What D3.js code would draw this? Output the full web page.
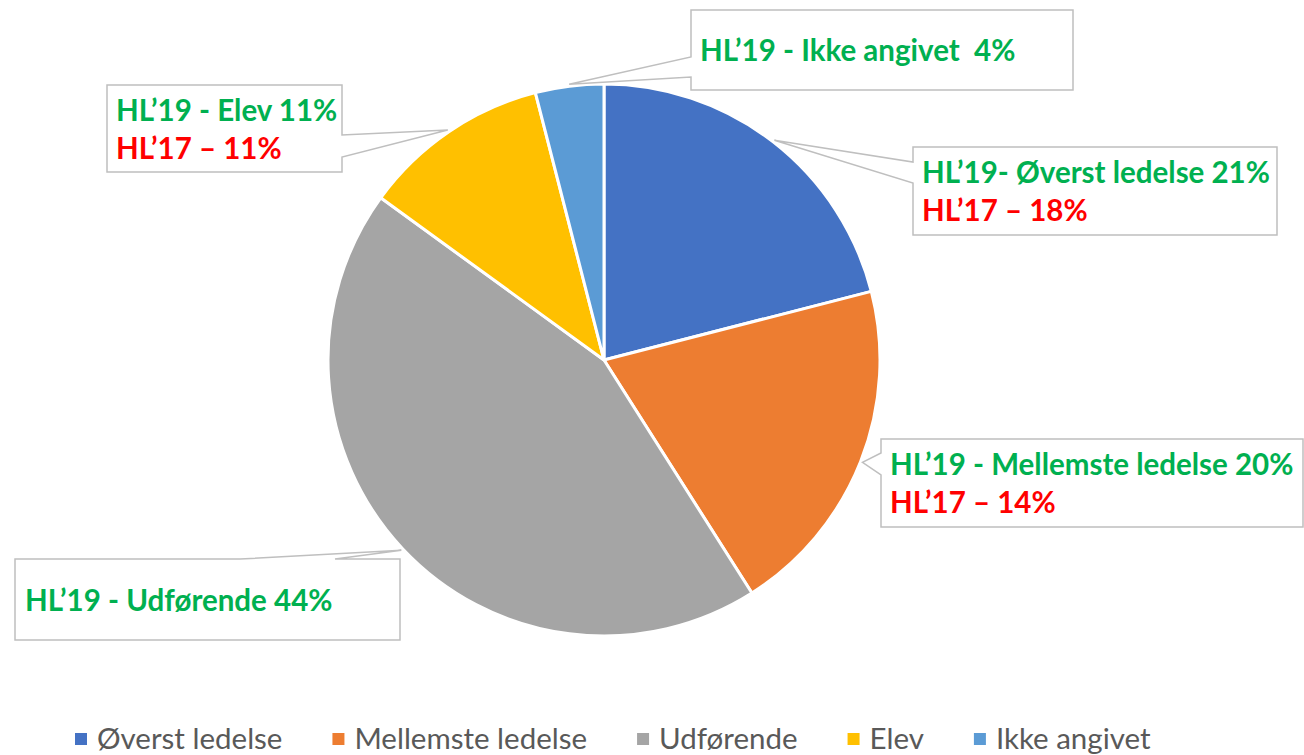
<!DOCTYPE html>
<html>
<head>
<meta charset="utf-8">
<script src="https://cdn.jsdelivr.net/npm/d3@7"></script>
<style>
  html, body { margin: 0; padding: 0; background: #fff; }
  svg { display: block; }
  text { white-space: pre; }
</style>
</head>
<body>
<svg id="chart" width="1304" height="755"></svg>
<script>
// ---- data ----
const categories = ["Øverst ledelse", "Mellemste ledelse", "Udførende", "Elev", "Ikke angivet"];
const values2019 = [21, 20, 44, 11, 4];
const values2017 = [18, 14, null, 11, null];
const labels2019 = ["HL’19- Øverst ledelse 21%", "HL’19 - Mellemste ledelse 20%", "HL’19 - Udførende 44%", "HL’19 - Elev 11%", "HL’19 - Ikke angivet  4%"];
const labels2017 = ["HL’17 – 18%", "HL’17 – 14%", null, "HL’17 – 11%", null];
const colors = ["#4472C4", "#ED7D31", "#A5A5A5", "#FFC000", "#5B9BD5"];

// ---- layout ----
const W = 1304, H = 755;
const cx = 604, cy = 360, R = 276;
const svg = d3.select("#chart");
const FONT = "Lato, 'Open Sans', sans-serif";

const pie = d3.pie().sort(null).value(d => d)(values2019);
const arc = d3.arc().innerRadius(0).outerRadius(R);

const g = svg.append("g").attr("transform", `translate(${cx},${cy})`);
g.selectAll("path").data(pie).join("path")
  .attr("d", arc)
  .attr("fill", (d, i) => colors[i])
  .attr("stroke", "#fff")
  .attr("stroke-width", 3)
  .attr("stroke-linejoin", "round");

// callout boxes (layout): x, y, w, h, side of pointer base, base start/end (offsets along side)
const boxes = [
  { x: 913, y: 147, w: 364, h: 88, side: "left", b0: 15, b1: 36 },
  { x: 881, y: 439, w: 422, h: 88, side: "left", b0: 14, b1: 36 },
  { x: 15, y: 559, w: 385, h: 81, side: "top", b0: 225, b1: 320 },
  { x: 107, y: 85, w: 235, h: 87, side: "right", b0: 50, b1: 72 },
  { x: 691, y: 10, w: 382, h: 80, side: "left", b0: 47, b1: 67 }
];

const cg = svg.append("g");
pie.forEach((d, i) => {
  const b = boxes[i];
  const mid = (d.startAngle + d.endAngle) / 2;
  const tip = d3.pointRadial(mid, R + 2);
  const tx = cx + tip[0], ty = cy + tip[1];
  const x0 = b.x, y0 = b.y, x1 = b.x + b.w, y1 = b.y + b.h;
  let pts;
  if (b.side === "left") {
    pts = [[x0, y0], [x1, y0], [x1, y1], [x0, y1], [x0, y0 + b.b1], [tx, ty], [x0, y0 + b.b0]];
  } else if (b.side === "right") {
    pts = [[x0, y0], [x1, y0], [x1, y0 + b.b0], [tx, ty], [x1, y0 + b.b1], [x1, y1], [x0, y1]];
  } else {
    pts = [[x0, y0], [x0 + b.b0, y0], [tx, ty], [x0 + b.b1, y0], [x1, y0], [x1, y1], [x0, y1]];
  }
  cg.append("path")
    .attr("d", d3.line()(pts) + "Z")
    .attr("fill", "#fff")
    .attr("stroke", "#BFBFBF")
    .attr("stroke-width", 1.5)
    .attr("stroke-linejoin", "miter");

  const hasTwo = labels2017[i] !== null;
  const textX = b.x + 9;
  const fs = 29.5;
  if (hasTwo) {
    cg.append("text").attr("x", textX).attr("y", b.y + 36)
      .attr("font-family", FONT).attr("font-weight", 700).attr("font-size", fs)
      .attr("fill", "#00B050").text(labels2019[i]);
    cg.append("text").attr("x", textX).attr("y", b.y + 74)
      .attr("font-family", FONT).attr("font-weight", 700).attr("font-size", fs)
      .attr("fill", "#FF0000").text(labels2017[i]);
  } else {
    cg.append("text").attr("x", textX + (b.side === "top" ? 1 : 0)).attr("y", b.y + b.h / 2 + 11)
      .attr("font-family", FONT).attr("font-weight", 700).attr("font-size", fs)
      .attr("fill", "#00B050").text(labels2019[i]);
  }
});

// legend
const lg = svg.append("g");
let lx = 75;
const ly = 739;
categories.forEach((c, i) => {
  lg.append("rect").attr("x", lx).attr("y", ly - 6).attr("width", 12).attr("height", 12)
    .attr("fill", colors[i]);
  const t = lg.append("text").attr("x", lx + 22).attr("y", ly + 10)
    .attr("font-family", FONT).attr("font-size", 29.5).attr("fill", "#595959").text(c);
  lx += 22 + t.node().getComputedTextLength() + 50;
});
</script>
</body>
</html>
